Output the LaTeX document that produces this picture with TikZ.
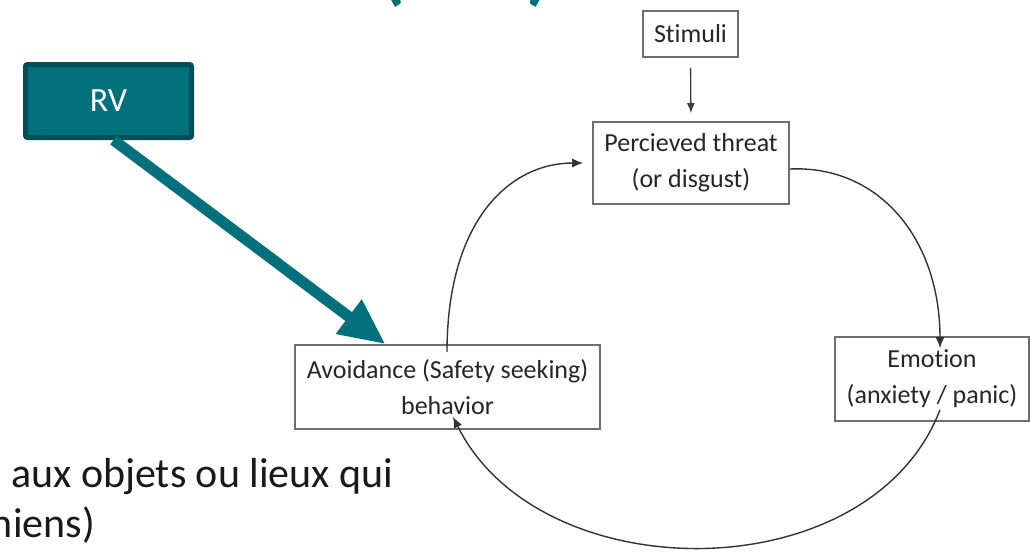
\documentclass[tikz,border=0pt]{standalone}
\usepackage{fontspec}
\setmainfont{Carlito}[Ligatures=NoCommon]
\usetikzlibrary{arrows.meta}
\definecolor{teal1}{HTML}{00707A}
\definecolor{teal2}{HTML}{004E57}
\definecolor{boxline}{HTML}{6E6E6E}
\definecolor{txt}{HTML}{262626}
\definecolor{curve}{HTML}{6E6E6E}
\tikzset{
  flowbox/.style={draw=boxline, line width=1.6pt, fill=white, align=center, inner sep=0pt,
    text=txt, font=\fontsize{26}{36}\selectfont},
  cyc/.style={draw=curve, line width=1.4pt, -{Latex[length=11pt,width=9pt]}, black!80},
}
\begin{document}
\begin{tikzpicture}[x=1pt,y=-1pt]
\useasboundingbox (0,0) rectangle (1030,552);
\clip (0,0) rectangle (1030,552);
% cut title
\node[anchor=base west, inner sep=0pt, text=teal1, font=\fontsize{79}{90}\selectfont\bfseries] (title) at (-190,-5) {Troubles anxieux (TCC)};
% boxes
\node[flowbox, minimum width=95pt, minimum height=46pt] (stim) at (690.5,34) {Stimuli};
\node[flowbox, minimum width=196pt, minimum height=82pt] (perc) at (691,163) {Percieved threat\\(or disgust)};
\node[flowbox, minimum width=194pt, minimum height=84pt] (emo) at (932,379) {Emotion\\(anxiety / panic)};
\node[flowbox, minimum width=305pt, minimum height=84pt] (avo) at (447.5,387) {Avoidance (Safety seeking)\\behavior};
\node[draw=teal2, fill=teal1, line width=5pt, rounded corners=2pt, minimum width=166pt, minimum height=73pt,
      text=white, font=\fontsize{34}{40}\selectfont, inner sep=0pt] (rv) at (108.5,101) {RV};
% connectors
\draw[line width=1.3pt, draw=black!75, -{Latex[length=10pt,width=8pt]}, shorten <=10pt, shorten >=8pt] (stim.south) -- (perc.north);
\draw[cyc] ([yshift=-6pt]perc.east) .. controls (880,165) and (940,240) .. ([xshift=8pt,yshift=-12pt]emo.north);
\draw[cyc] ([xshift=8pt,yshift=12pt]emo.south) .. controls (870,592) and (540,592) .. ([xshift=5.5pt,yshift=13pt]avo.south);
\draw[cyc] ([xshift=-0.5pt,yshift=-8pt]avo.north) .. controls (447,220) and (510,163) .. ([xshift=-9pt]perc.west);
\draw[draw=teal1, line width=11pt, -{Triangle[length=46pt,width=40pt]}] ([xshift=5pt]rv.south) -- ([xshift=-62pt]avo.north);
% cut body text
\node[anchor=base west, inner sep=0pt, font=\fontsize{42}{50}\selectfont, text=black!90] (l1) at (11,487) {aux objets ou lieux qui};
\node[anchor=base east, inner sep=0pt, font=\fontsize{42}{50}\selectfont, text=black!90] (l2) at (95,537) {chiens)};
\end{tikzpicture}
\end{document}
